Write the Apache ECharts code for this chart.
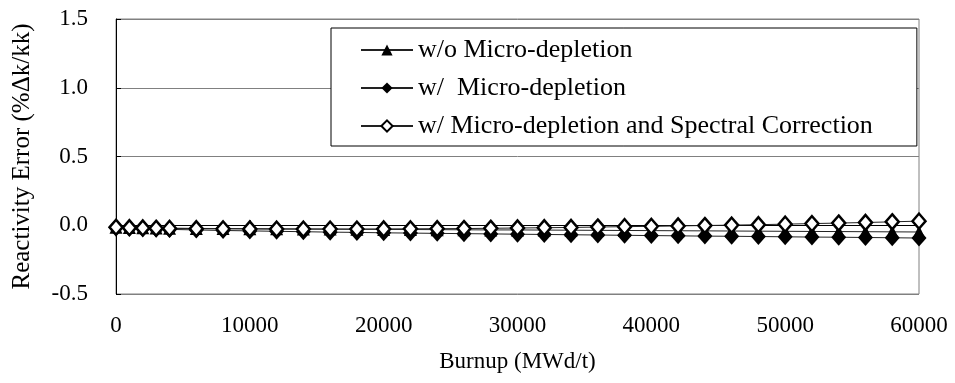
<!DOCTYPE html>
<html>
<head>
<meta charset="utf-8">
<script src="https://cdn.jsdelivr.net/npm/echarts@6/dist/echarts.min.js"></script>
<style>
  html, body { margin: 0; padding: 0; background: #fff; }
  #chart { width: 955px; height: 383px; }
</style>
</head>
<body>
<div id="chart"></div>
<script>
// Burnup steps (MWd/t)
const burnup = [0, 1000, 2000, 3000, 4000, 6000, 8000, 10000, 12000, 14000, 16000,
  18000, 20000, 22000, 24000, 26000, 28000, 30000, 32000, 34000, 36000, 38000,
  40000, 42000, 44000, 46000, 48000, 50000, 52000, 54000, 56000, 58000, 60000];

// Reactivity error (%Δk/kk) for each calculation scheme
const withoutMicro = [-0.015, -0.017, -0.019, -0.020, -0.021, -0.023, -0.024, -0.025,
  -0.026, -0.027, -0.028, -0.029, -0.030, -0.031, -0.032, -0.033, -0.034, -0.034,
  -0.035, -0.036, -0.037, -0.038, -0.039, -0.040, -0.041, -0.042, -0.043, -0.044,
  -0.045, -0.046, -0.047, -0.048, -0.049];
const withMicro = [-0.015, -0.020, -0.024, -0.027, -0.030, -0.034, -0.038, -0.041,
  -0.044, -0.047, -0.050, -0.052, -0.055, -0.057, -0.059, -0.061, -0.063, -0.065,
  -0.067, -0.069, -0.071, -0.073, -0.075, -0.077, -0.079, -0.080, -0.082, -0.084,
  -0.086, -0.087, -0.089, -0.091, -0.093];
const withMicroSpectral = [-0.015, -0.018, -0.020, -0.022, -0.023, -0.025, -0.026, -0.027,
  -0.028, -0.028, -0.028, -0.028, -0.027, -0.026, -0.025, -0.024, -0.022, -0.020,
  -0.018, -0.016, -0.013, -0.010, -0.008, -0.005, -0.002, 0.001, 0.004, 0.008,
  0.012, 0.016, 0.020, 0.025, 0.030];

const seriesNames = ['w/o Micro-depletion', 'w/  Micro-depletion', 'w/ Micro-depletion and Spectral Correction'];

const FONT = '"Liberation Serif", "Times New Roman", serif';

function pairs(ys) { return burnup.map((x, i) => [x, ys[i]]); }

const chart = echarts.init(document.getElementById('chart'), null, { renderer: 'canvas' });

chart.setOption({
  animation: false,
  backgroundColor: '#fff',
  grid: {
    left: 116, right: 36, top: 19, bottom: 89,
    show: true, borderColor: '#808080', borderWidth: 1
  },
  legend: {
    orient: 'vertical',
    left: 331, top: 28,
    padding: [9, 44, 7, 29],
    itemGap: 12,
    itemWidth: 52, itemHeight: 14,
    backgroundColor: '#fff',
    borderColor: '#000', borderWidth: 1,
    textStyle: { fontFamily: FONT, fontSize: 26, color: '#000', lineHeight: 26 },
    data: seriesNames
  },
  xAxis: {
    type: 'value', min: 0, max: 60000, interval: 10000,
    name: 'Burnup (MWd/t)', nameLocation: 'middle', nameGap: 56,
    nameTextStyle: { fontFamily: FONT, fontSize: 23, color: '#000' },
    axisLine: { show: true, lineStyle: { color: '#000', width: 1 } },
    axisTick: { show: true, inside: true, length: 5, lineStyle: { color: '#000' } },
    axisLabel: {
      fontFamily: FONT, fontSize: 23, color: '#000', margin: 20,
      formatter: v => String(v)
    },
    splitLine: { show: false }
  },
  yAxis: {
    type: 'value', min: -0.5, max: 1.5, interval: 0.5,
    name: 'Reactivity Error (%Δk/kk)', nameLocation: 'middle', nameGap: 81,
    nameTextStyle: { fontFamily: FONT, fontSize: 25, color: '#000' },
    axisLine: { show: true, lineStyle: { color: '#000', width: 1 } },
    axisTick: { show: true, inside: true, length: 5, lineStyle: { color: '#000' } },
    axisLabel: {
      fontFamily: FONT, fontSize: 23, color: '#000', margin: 28,
      formatter: v => v.toFixed(1)
    },
    splitLine: { show: true, lineStyle: { color: '#808080', width: 1 } }
  },
  series: [
    {
      name: seriesNames[0], type: 'line', data: pairs(withoutMicro),
      symbol: 'triangle', symbolSize: 13,
      lineStyle: { color: '#222', width: 1 },
      itemStyle: { color: '#000', borderColor: '#000', borderWidth: 0 }
    },
    {
      name: seriesNames[1], type: 'line', data: pairs(withMicro),
      symbol: 'diamond', symbolSize: [15, 17],
      lineStyle: { color: '#222', width: 1 },
      itemStyle: { color: '#000', borderColor: '#000', borderWidth: 0 }
    },
    {
      name: seriesNames[2], type: 'line', data: pairs(withMicroSpectral),
      symbol: 'diamond', symbolSize: [13, 15],
      lineStyle: { color: '#222', width: 1 },
      itemStyle: { color: '#fff', borderColor: '#000', borderWidth: 2.5 }
    }
  ]
});
</script>
</body>
</html>
